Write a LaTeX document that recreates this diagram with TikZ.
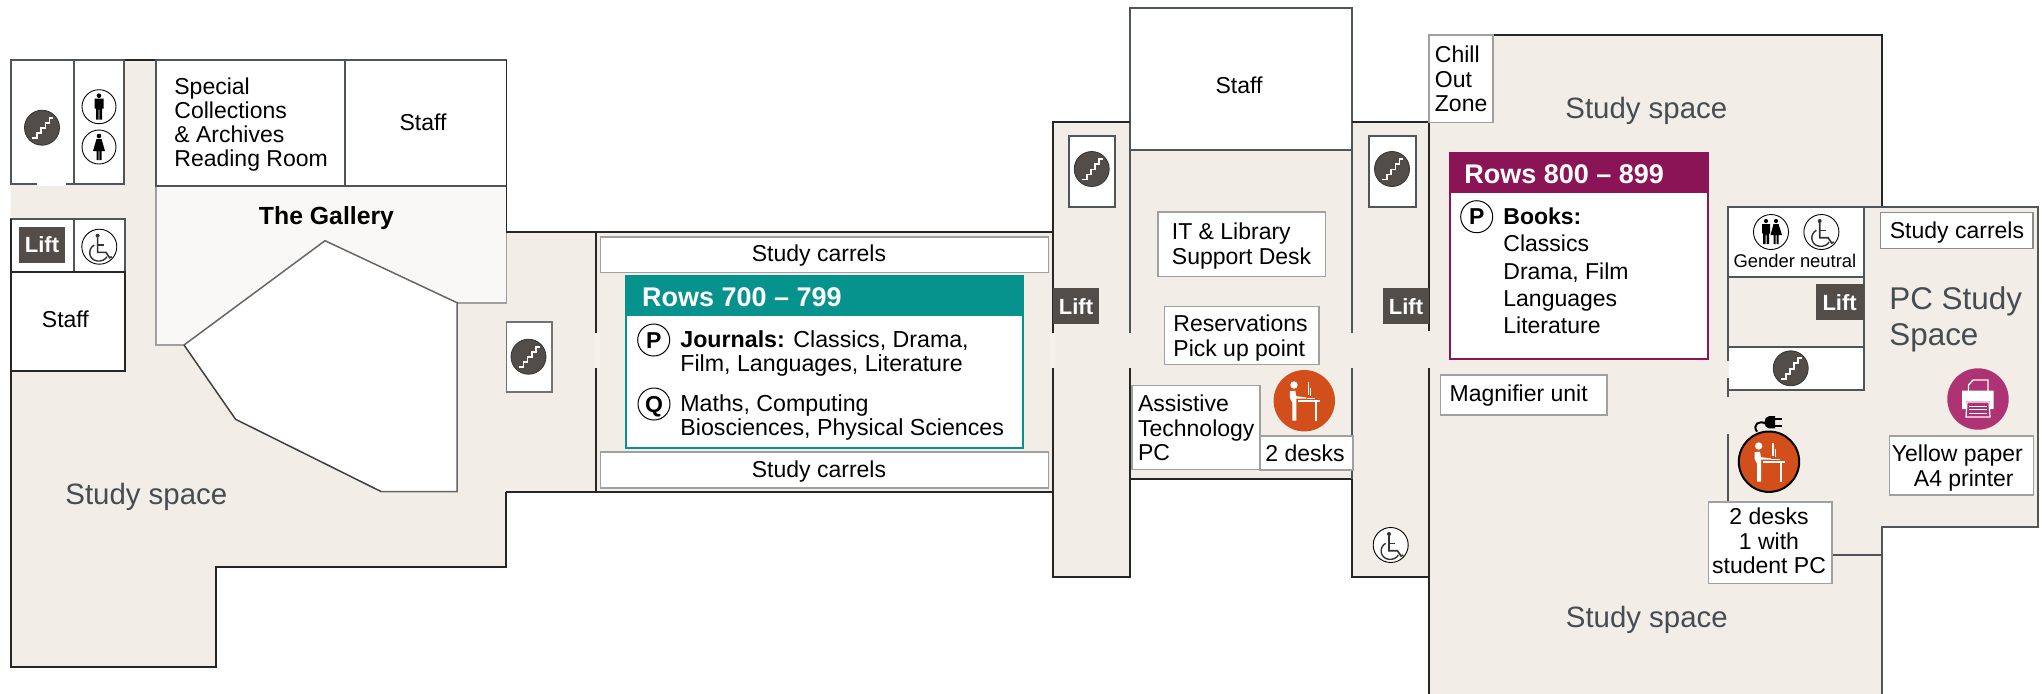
\documentclass[tikz,border=0pt]{standalone}
\usepackage{fontspec}
\setmainfont{Liberation Sans}
\definecolor{beige}{HTML}{F2EDE7}
\definecolor{gal}{HTML}{F9F8F6}
\definecolor{gapc}{HTML}{F6F1E9}
\definecolor{liftc}{HTML}{524D49}
\definecolor{teal1}{HTML}{06938D}
\definecolor{plum1}{HTML}{8A1456}
\definecolor{orng}{HTML}{D24E1B}
\definecolor{magn}{HTML}{AE3374}
\definecolor{gtext}{HTML}{454C52}
\definecolor{rline}{HTML}{50555A}
\definecolor{bline}{HTML}{A0A0A0}
\newcommand{\tl}[1]{\begin{tabular}[t]{@{}l@{}}#1\end{tabular}}
\newcommand{\tcn}[1]{\begin{tabular}[t]{@{}c@{}}#1\end{tabular}}
\tikzset{
  wall/.style={draw=black!85,line width=0.85pt},
  rl/.style={draw=rline,line width=0.85pt},
  bl/.style={draw=bline,line width=0.8pt,fill=white},
  room/.style={draw=rline,line width=0.85pt,fill=white},
  lbl/.style={inner sep=0pt,anchor=base,yshift=-0.6pt,font=\fontsize{11.5}{12.25}\selectfont},
  lbw/.style={inner sep=0pt,anchor=base west,yshift=-0.6pt,font=\fontsize{11.5}{12.25}\selectfont},
  big/.style={inner sep=0pt,anchor=base west,yshift=-0.6pt,text=gtext,font=\fontsize{14.7}{18}\selectfont},
  rowshead/.style={inner sep=0pt,anchor=base west,yshift=-0.6pt,text=white,font=\bfseries\fontsize{13.5}{15}\selectfont},
  letter/.style={circle,draw=black,fill=white,line width=0.5pt,inner sep=0pt,minimum size=16pt,text height=8pt,text depth=0pt,font=\bfseries\fontsize{11.5}{12}\selectfont},
  lift/.style={fill=liftc,text=white,inner sep=0pt,minimum width=23.3pt,minimum height=18pt,text height=8pt,text depth=0pt,font=\bfseries\fontsize{11}{12}\selectfont},
  stairicon/.pic={
    \fill[liftc,draw=black!80,line width=0.4pt] (0,0) circle (17.5);
    \draw[white,line width=0.9pt] (-10,10.5)--(-5,10.5)--(-5,5.5)--(-1,5.5)--(-1,0.5)--(3.5,0.5)--(3.5,-5)--(7.5,-5)--(7.5,-10)--(11,-10);
  },
  wheel/.pic={
    \fill[white,draw=black,line width=0.45pt] (0,0) circle (17.5);
    \fill[black!80] (-1.7,-11) circle (2);
    \draw[black!80,line width=0.8pt] (-1.7,-9)--(-1.7,5.7)--(6.7,5.7)--(10.3,11)--(12.5,10);
    \draw[black!80,line width=0.7pt] (-1.7,-1.7)--(4.3,-1.7);
    \draw[black!80,line width=0.7pt] (-5,-1.7) .. controls (-12,2) and (-11,13) .. (-2,14.3) .. controls (2,14.8) and (6,13) .. (7.7,10);
  },
  man/.pic={
    \fill[white,draw=black,line width=0.45pt] (0,0) circle (17);
    \fill[black] (0,-11) circle (2.3);
    \fill[black] (-4.5,-8)--(4.5,-8)--(4.5,2)--(3,2)--(3,13)--(0.4,13)--(0.4,3)--(-0.4,3)--(-0.4,13)--(-3,13)--(-3,2)--(-4.5,2)--cycle;
  },
  woman/.pic={
    \fill[white,draw=black,line width=0.45pt] (0,0) circle (17);
    \fill[black] (0,-11) circle (2.3);
    \fill[black] (-2.5,-8)--(2.5,-8)--(6,4)--(2.5,4)--(2.5,13)--(0.4,13)--(0.4,4)--(-0.4,4)--(-0.4,13)--(-2.5,13)--(-2.5,4)--(-6,4)--cycle;
  },
  neutral/.pic={
    \fill[white,draw=black,line width=0.45pt] (0,0) circle (17.5);
    \fill[black] (-5,-11) circle (2.1);
    \fill[black] (-9,-8)--(-1,-8)--(-1,1)--(-2,2)--(-2,12)--(-4.5,12)--(-4.5,3)--(-5.5,3)--(-5.5,12)--(-8,12)--(-8,2)--(-9,1)--cycle;
    \fill[black] (5,-11) circle (2.1);
    \fill[black] (2.5,-8)--(7.5,-8)--(11,3)--(7.5,3)--(7.5,12)--(5.5,12)--(5.5,3)--(4.5,3)--(4.5,12)--(2.5,12)--(2.5,3)--(-0.5,3)--cycle;
  },
  deskicon/.pic={
    \fill[white] (-10.3,-15.7) circle (3.7);
    \fill[white] (-14.5,-9.5)--(-9,-10)--(-8,-4.5)--(2,-3.4)--(2,-2)--(-8,-2.2)--(-8,20)--(-12,20)--(-12,2)--(-14.5,-3)--cycle;
    \draw[white,line width=0.8pt] (-6,0.3)--(16,0.3);
    \draw[white,line width=1pt] (11.7,0)--(11.7,20);
    \draw[white,line width=0.8pt] (4,-19)--(4,-5.5);
    \draw[white,line width=0.6pt] (6.3,-13)--(6.3,-5);
    \draw[white,line width=0.5pt] (2.3,-2.3)--(10.7,-2.3);
  },
  plug/.pic={
    \draw[black,line width=1pt] (-3,-38) .. controls (-10,-42) and (-17,-37) .. (-12,-30);
    \fill[black] (6,-45.5)--(0,-45.5) .. controls (-6,-45.5) and (-6,-33.3) .. (0,-33.3)--(6,-33.3)--cycle;
    \draw[black,line width=1pt] (6,-43)--(13,-43) (6,-36)--(13,-36);
  },
  printer/.pic={
    \draw[white,line width=0.7pt] (-9.5,-6)--(-9.5,-14)--(-5,-19)--(10,-19)--(10,-6);
    \fill[white] (-16,-8.5)--(15.5,-8.5)--(15.5,10)--(12,10)--(12,2)--(-12,2)--(-12,10)--(-16,10)--cycle;
    \draw[white,line width=0.6pt,fill=magn] (-11,3)--(11,3)--(12,18)--(-12,18)--cycle;
    \foreach \yy in {7,10.5,14}{\draw[white,line width=0.5pt] (-9,\yy)--(9,\yy);}
  }
}
\begin{document}
\begin{tikzpicture}[x=0.5pt,y=-0.5pt]
\useasboundingbox (0,0) rectangle (2042,693);
\begin{scope}
\clip (0,0) rectangle (2042,693);
% floor
\fill[beige] (10.7,60)--(506.4,60)--(506.4,232)--(1053.3,232)--(1053.3,121.7)--(1130,121.7)--(1130,150)--(1352.3,150)--(1352.3,121.7)--(1429.3,121.7)--(1429.3,34.7)--(1881.7,34.7)--(1881.7,207.3)--(2038.3,207.3)--(2038.3,526.7)--(1881.7,526.7)--(1881.7,700)--(1429.3,700)--(1429.3,576.7)--(1352.3,576.7)--(1352.3,479.3)--(1130,479.3)--(1130,576.7)--(1053.3,576.7)--(1053.3,492)--(506,492)--(506,567)--(216,567)--(216,666.7)--(10.7,666.7)--cycle;
% gallery
\fill[gal] (156,186)--(506.4,186)--(506.4,302.7)--(457,302.7)--(325,240.7)--(184,345)--(156,345)--cycle;
\draw[bline,line width=0.8pt] (156,186)--(156,345)--(184,345) (506.4,232)--(506.4,302.7)--(457,302.7);
% atrium
\fill[white] (184,345)--(325,240.7)--(457,302.7)--(457,491.7)--(381.4,491.7)--(235.6,419.3)--cycle;
\draw[draw=black!60,line width=0.75pt] (184,345)--(325,240.7)--(457,302.7)--(457,491.7)--(381.4,491.7);
\draw[draw=black!75,line width=0.75pt] (381.4,491.7)--(235.6,419.3)--(184,345);
% rooms
\draw[wall] (10.7,60)--(506.4,60);
\draw[room] (10.7,60) rectangle (74.3,184);
\draw[room] (74.3,60) rectangle (124,184);
\fill[white] (37,182) rectangle (66,186);
\draw[room] (155.7,60) rectangle (345,186);
\draw[room] (345,60) rectangle (506.4,186);
\draw[room] (10.7,218.7) rectangle (74.3,272);
\draw[room] (74.3,218.7) rectangle (125,272);
\draw[wall,fill=white] (10.7,272) rectangle (125,371.3);
\draw[room,draw=black!55] (506.4,321.7) rectangle (552,392.3);
\draw[room] (1068.7,135.7) rectangle (1115.3,206.7);
\draw[room] (1369.3,135.7) rectangle (1415.7,206.7);
\draw[room] (1130,8.3) rectangle (1352.3,150);
% walls
\draw[wall] (10.7,218.7)--(10.7,666.7)--(216,666.7)--(216,567)--(506,567)--(506,492);
\draw[wall] (506.4,60)--(506.4,232)--(1053.3,232) (506.4,492)--(1053.3,492);
\draw[wall] (595.7,232)--(595.7,333) (595.7,368)--(595.7,492);
\draw[wall] (1053.3,333)--(1053.3,121.7)--(1130,121.7);
\draw[wall] (1053.3,368)--(1053.3,576.7)--(1130,576.7)--(1130,368);
\draw[rl] (1130,150)--(1130,333);
\fill[beige] (1128,333) rectangle (1132,368);
\draw[wall] (1130,479.3)--(1352.3,479.3);
\draw[rl] (1352.3,150)--(1352.3,333) (1352.3,368)--(1352.3,479.3);
\draw[wall] (1352.3,479.3)--(1352.3,576.7)--(1429.3,576.7);
\draw[wall] (1352.3,121.7)--(1429.3,121.7);
\draw[wall] (1429.3,122)--(1429.3,330.7) (1429.3,368)--(1429.3,700);
\draw[wall] (1493,34.7)--(1881.7,34.7)--(1881.7,207.3);
\draw[rl] (1728.2,207.3)--(2038.3,207.3)--(2038.3,526.7)--(1881.7,526.7)--(1881.7,700);
\draw[rl] (1831.7,555)--(1881.7,555);
\fill[gapc] (595,333) rectangle (600,368);
\fill[gapc] (1050,333) rectangle (1054.5,368);
% PC area rooms
\draw[room] (1728.2,207.3) rectangle (1863.7,276.7);
\draw[rl] (1863.7,276.7)--(1863.7,346.7);
\draw[rl] (1728.2,276.7)--(1728.2,346.7);
\draw[room] (1728.2,346.7) rectangle (1863.7,390);
\fill[beige] (1726,361) rectangle (1729,378);
\fill[white] (1729,361) rectangle (1730.5,378);
\draw[rl] (1728.2,390)--(1728.2,397) (1728.2,434)--(1728.2,501);
% boxes
\draw[bl] (600.3,236.7) rectangle (1048.3,272.3);
\draw[bl] (600.3,451.7) rectangle (1048.3,487.7);
\draw[bl,draw=teal1,line width=1pt] (626.3,275.7) rectangle (1023.3,448);
\fill[teal1] (626.3,275.7) rectangle (1023.3,315.7);
\draw[bl,draw=plum1,line width=0.9pt] (1449.8,153.3) rectangle (1708,359.3);
\fill[plum1] (1449.8,153.3) rectangle (1708,193);
\draw[bl] (1157.7,211.7) rectangle (1325.3,276.3);
\draw[bl] (1164.3,306.3) rectangle (1318.7,364.3);
\draw[bl] (1131.7,385.3) rectangle (1260,469.3);
\draw[bl] (1260,436) rectangle (1353,470);
\draw[bl] (1428.7,34.7) rectangle (1493,122.3);
\draw[bl] (1440.3,375) rectangle (1607,415);
\draw[bl,draw=black!45] (1880.5,212.3) rectangle (2032.9,248.3);
\draw[bl] (1708.3,501.7) rectangle (1831.7,583.3);
\draw[bl] (1889.3,435.7) rectangle (2033.3,495);
% icons
\pic at (42,127.7) {stairicon};
\pic at (528.5,356.7) {stairicon};
\pic at (1091.7,169) {stairicon};
\pic at (1392,169) {stairicon};
\pic at (1790.7,368.3) {stairicon};
\pic at (99,106.7) {man};
\pic at (99,147) {woman};
\pic at (99.3,246.7) {wheel};
\pic at (1390.7,545) {wheel};
\pic at (1821.4,232) {wheel};
\pic at (1771,232) {neutral};
\fill[orng] (1304.3,400.7) circle (30.7);
\pic at (1304.3,400.7) {deskicon};
\fill[orng,draw=black,line width=1pt] (1769,461.7) circle (30.2);
\pic at (1769,461.7) {deskicon};
\pic at (1769,461.7) {plug};
\fill[magn] (1978,399) circle (30.7);
\pic at (1978,399) {printer};
\end{scope}
% labels
\node[lbw,font=\fontsize{11.5}{11.95}\selectfont] (special) at (174,93.3) {\tl{Special\\Collections\\\& Archives\\Reading Room}};
\node[lbl] (staff1) at (423,129.3) {Staff};
\node[lbl] (staff2) at (65.4,326.7) {Staff};
\node[lbl] (staff3) at (1239,92.3) {Staff};
\node[lbl,font=\bfseries\fontsize{12.4}{14}\selectfont] (gallery) at (326.5,223.3) {The Gallery};
\node[big] (ss1) at (65,503.3) {Study space};
\node[big] (ss2) at (1565,117.3) {Study space};
\node[big] (ss3) at (1565.5,626.7) {Study space};
\node[big,font=\fontsize{15.7}{18}\selectfont] (pcs) at (1889,308.3) {\tl{PC Study\\Space}};
\node[lbl] (sc1) at (819,260.7) {Study carrels};
\node[lbl] (sc2) at (819,476.7) {Study carrels};
\node[lbl] (sc3) at (1957,237.3) {Study carrels};
\node[rowshead] (r7) at (641.7,305.5) {Rows 700 – 799};
\node[rowshead] (r8) at (1464,182) {Rows 800 – 899};
\node[letter] (p7) at (653.7,340) {P};
\node[letter] (q7) at (654,404) {Q};
\node[letter] (p8) at (1476.7,216.7) {P};
\node[lbw,font=\fontsize{11.6}{12.25}\selectfont] (j1) at (680,346) {\tl{\textbf{Journals:} Classics, Drama,\\Film, Languages, Literature}};
\node[lbw,font=\fontsize{11.6}{12.25}\selectfont] (m1) at (680,410) {\tl{Maths, Computing\\Biosciences, Physical Sciences}};
\node[lbw,font=\fontsize{11.5}{13.65}\selectfont] (b1) at (1503,223.3) {\tl{\textbf{Books:}\\Classics\\Drama, Film\\Languages\\Literature}};
\node[lbw] (it) at (1171.5,238.7) {\tl{IT \& Library\\Support Desk}};
\node[lbw] (res) at (1173,330.7) {\tl{Reservations\\Pick up point}};
\node[lbw] (at) at (1137.7,410.7) {\tl{Assistive\\Technology\\PC}};
\node[lbl] (d2) at (1305,460.3) {2 desks};
\node[lbw] (chill) at (1434.5,61.7) {\tl{Chill\\Out\\Zone}};
\node[lbw] (mag) at (1449.3,400.7) {Magnifier unit};
\node[lbl,font=\fontsize{9.2}{11}\selectfont] (gn) at (1794.9,266.7) {Gender neutral};
\node[lbl] (d3) at (1769,523.3) {\tcn{2 desks\\1 with\\student PC}};
\node[lbw] (yp) at (1891.5,460.7) {\tl{Yellow paper\\\hspace{11pt}A4 printer}};
\node[lift] (l1) at (42,244.8) {Lift};
\node[lift] (l2) at (1076,306.3) {Lift};
\node[lift] (l3) at (1406,306.3) {Lift};
\node[lift,minimum width=24pt] (l4) at (1839.6,302) {Lift};
\end{tikzpicture}
\end{document}
